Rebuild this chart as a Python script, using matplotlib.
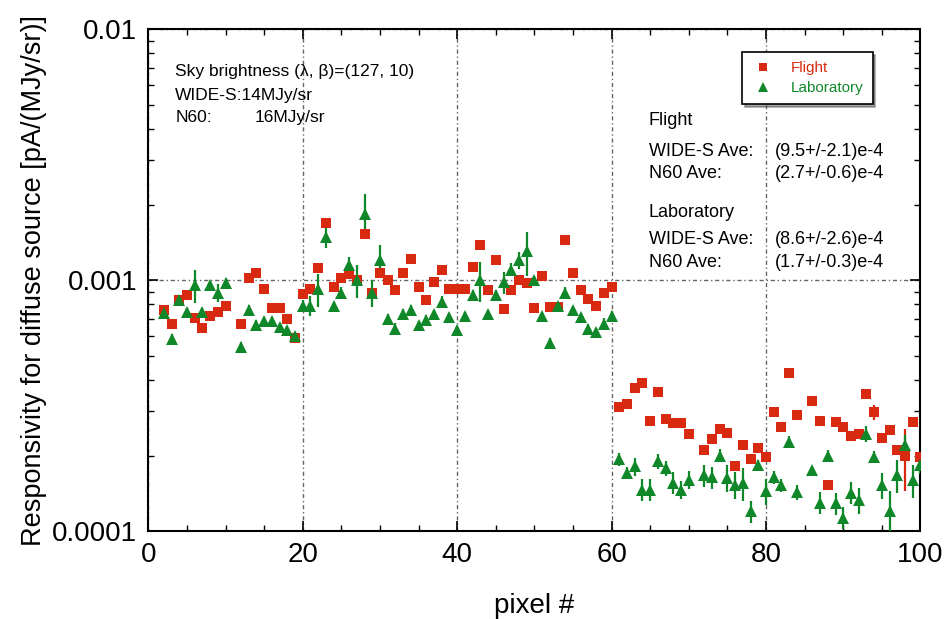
import numpy as np
import matplotlib
matplotlib.use("Agg")
import matplotlib.pyplot as plt
from matplotlib.lines import Line2D
from matplotlib.ticker import FixedLocator, MultipleLocator, LogLocator, NullFormatter

nan = np.nan
pixel = np.arange(1, 101)

# Flight responsivity, pixel 1..100 (nan = no data)
flight = [nan, 7.6e-4, 6.7e-4, 8.3e-4, 8.7e-4, 7.06e-4, 6.45e-4, 7.2e-4, 7.45e-4, 7.9e-4,
          nan, 6.7e-4, 1.02e-3, 1.07e-3, 9.2e-4, 7.75e-4, 7.75e-4, 7.0e-4, 5.9e-4, 8.8e-4,
          9.2e-4, 1.12e-3, 1.69e-3, 9.4e-4, 1.02e-3, 1.06e-3, 1.0e-3, 1.53e-3, 8.9e-4, 1.07e-3,
          1.0e-3, 9.1e-4, 1.07e-3, 1.21e-3, 9.4e-4, 8.3e-4, 9.8e-4, 1.1e-3, 9.2e-4, 9.2e-4,
          9.2e-4, 1.13e-3, 1.38e-3, 9.1e-4, 1.2e-3, 7.7e-4, 9.1e-4, 1.0e-3, 9.7e-4, 7.75e-4,
          1.04e-3, 7.8e-4, 7.8e-4, 1.45e-3, 1.07e-3, 9.1e-4, 8.4e-4, 7.9e-4, 8.9e-4, 9.4e-4,
          3.12e-4, 3.2e-4, 3.7e-4, 3.9e-4, 2.74e-4, 3.58e-4, 2.8e-4, 2.7e-4, 2.7e-4, 2.44e-4,
          nan, 2.11e-4, 2.33e-4, 2.56e-4, 2.45e-4, 1.81e-4, 2.2e-4, 1.94e-4, 2.14e-4, 1.98e-4,
          2.98e-4, 2.6e-4, 4.28e-4, 2.9e-4, nan, 3.3e-4, 2.74e-4, 1.52e-4, 2.72e-4, 2.6e-4,
          2.4e-4, 2.44e-4, 3.52e-4, 2.98e-4, 2.35e-4, 2.52e-4, 2.1e-4, 2.0e-4, 2.72e-4, 1.98e-4]
flight_err = [0.0] * 100
flight_err[93] = 0.2e-4   # pixel 94
flight_err[97] = 0.55e-4  # pixel 98

# Laboratory responsivity
lab = [nan, 7.4e-4, 5.83e-4, 8.3e-4, 7.45e-4, 9.55e-4, 7.45e-4, 9.55e-4, 8.9e-4, 9.7e-4,
       nan, 5.4e-4, 7.6e-4, 6.6e-4, 6.85e-4, 6.85e-4, 6.5e-4, 6.3e-4, 6.0e-4, 7.9e-4,
       7.9e-4, 9.2e-4, 1.49e-3, 7.9e-4, 8.9e-4, 1.15e-3, 1.0e-3, 1.83e-3, 8.9e-4, 1.2e-3,
       7.0e-4, 6.4e-4, 7.3e-4, 7.6e-4, 6.6e-4, 6.95e-4, 7.3e-4, 8.2e-4, 7.1e-4, 6.3e-4,
       7.2e-4, 8.7e-4, 1.0e-3, 7.3e-4, 8.7e-4, 9.8e-4, 1.1e-3, 1.2e-3, 1.3e-3, 1.0e-3,
       7.2e-4, 5.6e-4, 7.9e-4, 8.9e-4, 7.6e-4, 7.1e-4, 6.4e-4, 6.2e-4, 6.7e-4, 7.2e-4,
       1.94e-4, 1.71e-4, 1.81e-4, 1.46e-4, 1.46e-4, 1.9e-4, 1.78e-4, 1.56e-4, 1.46e-4, 1.6e-4,
       nan, 1.67e-4, 1.64e-4, 2.0e-4, 1.63e-4, 1.53e-4, 1.55e-4, 1.2e-4, 1.83e-4, 1.44e-4,
       1.64e-4, 1.52e-4, 2.27e-4, 1.43e-4, nan, 1.75e-4, 1.3e-4, 2.0e-4, 1.29e-4, 1.13e-4,
       1.42e-4, 1.33e-4, 2.44e-4, 1.98e-4, 1.52e-4, 1.2e-4, 1.67e-4, 2.2e-4, 1.6e-4, 1.84e-4]
# relative error of laboratory points
lab_relerr = [0.04, 0.04, 0.05, 0.04, 0.04, 0.15, 0.04, 0.04, 0.08, 0.05,
              0.04, 0.05, 0.05, 0.05, 0.04, 0.04, 0.04, 0.04, 0.04, 0.05,
              0.09, 0.15, 0.1, 0.04, 0.05, 0.07, 0.15, 0.2, 0.12, 0.15,
              0.05, 0.05, 0.05, 0.05, 0.04, 0.04, 0.04, 0.05, 0.04, 0.04,
              0.04, 0.05, 0.18, 0.04, 0.05, 0.1, 0.06, 0.08, 0.2, 0.04,
              0.04, 0.05, 0.04, 0.05, 0.04, 0.04, 0.04, 0.04, 0.05, 0.05,
              0.06, 0.05, 0.08, 0.1, 0.1, 0.07, 0.07, 0.1, 0.08, 0.08,
              0.04, 0.1, 0.1, 0.06, 0.12, 0.12, 0.15, 0.1, 0.05, 0.12,
              0.06, 0.06, 0.05, 0.07, 0.04, 0.04, 0.1, 0.05, 0.1, 0.1,
              0.1, 0.12, 0.07, 0.05, 0.12, 0.2, 0.15, 0.1, 0.15, 0.08]

red = '#d82a10'
green = '#10882a'

plt.rcParams['font.family'] = ['Liberation Sans', 'DejaVu Sans']
fig = plt.figure(figsize=(9.45, 6.19), dpi=100)
ax = fig.add_axes([0.157, 0.142, 0.817, 0.811])

lab_arr = np.array(lab)
ax.errorbar(pixel, flight, yerr=flight_err, fmt='s', color=red, ms=7, mew=0,
            elinewidth=1.6, capsize=4, capthick=1.6, zorder=3)
ax.errorbar(pixel, lab, yerr=lab_arr * np.array(lab_relerr), fmt='^', color=green, ms=8,
            mew=0, elinewidth=1.6, capsize=4, capthick=1.6, zorder=3)

ax.set_yscale('log')
ax.set_xlim(0, 100)
ax.set_ylim(1e-4, 1e-2)
ax.xaxis.set_major_locator(MultipleLocator(20))
ax.xaxis.set_minor_locator(MultipleLocator(5))
ax.yaxis.set_major_locator(FixedLocator([1e-4, 1e-3, 1e-2]))
ax.yaxis.set_minor_locator(LogLocator(base=10, subs=np.arange(2, 10)))
ax.yaxis.set_minor_formatter(NullFormatter())
ax.set_yticklabels(['0.0001', '0.001', '0.01'])
ax.tick_params(which='both', direction='in', top=True, right=True, labelsize=20, pad=8)
ax.tick_params(which='major', length=7, width=1.2)
ax.tick_params(which='minor', length=4, width=1.0)
for s in ax.spines.values():
    s.set_linewidth(1.5)

ax.grid(True, which='major', color='#666666', linestyle=(0, (3, 2, 1, 2)), linewidth=1.0)

ax.set_xlabel('pixel #', fontsize=20, labelpad=18)
ax.set_ylabel('Responsivity for diffuse source [pA/(MJy/sr)]', fontsize=19.5, labelpad=4)

handles = [Line2D([], [], ls='', marker='s', ms=6, mew=0, color=red),
           Line2D([], [], ls='', marker='^', ms=7, mew=0, color=green)]
leg = ax.legend(handles, ['Flight', 'Laboratory'], loc='upper right',
                bbox_to_anchor=(0.948, 0.97), fontsize=11,
                frameon=True, fancybox=False, shadow=True, edgecolor='black',
                framealpha=1, borderpad=0.6, handletextpad=1.0, handlelength=1.6,
                labelspacing=0.4)
leg.get_frame().set_linewidth(1.2)
for txt, c in zip(leg.get_texts(), [red, green]):
    txt.set_color(c)

# left annotation
ax.text(0.035, 0.915, 'Sky brightness (λ, β)=(127, 10)', transform=ax.transAxes, fontsize=12.5, va='center')
ax.text(0.035, 0.868, 'WIDE-S:14MJy/sr', transform=ax.transAxes, fontsize=12.5, va='center')
ax.text(0.035, 0.824, 'N60:', transform=ax.transAxes, fontsize=12.5, va='center')
ax.text(0.138, 0.824, '16MJy/sr', transform=ax.transAxes, fontsize=12.5, va='center')

# right annotation
rows = [(0.818, 'Flight', ''),
        (0.757, 'WIDE-S Ave:', '(9.5+/-2.1)e-4'),
        (0.713, 'N60 Ave:', '(2.7+/-0.6)e-4'),
        (0.634, 'Laboratory', ''),
        (0.580, 'WIDE-S Ave:', '(8.6+/-2.6)e-4'),
        (0.536, 'N60 Ave:', '(1.7+/-0.3)e-4')]
for y, lbl, val in rows:
    ax.text(0.648, y, lbl, transform=ax.transAxes, fontsize=13, va='center')
    if val:
        ax.text(0.812, y, val, transform=ax.transAxes, fontsize=13, va='center')

fig.savefig('out.png', dpi=100)
